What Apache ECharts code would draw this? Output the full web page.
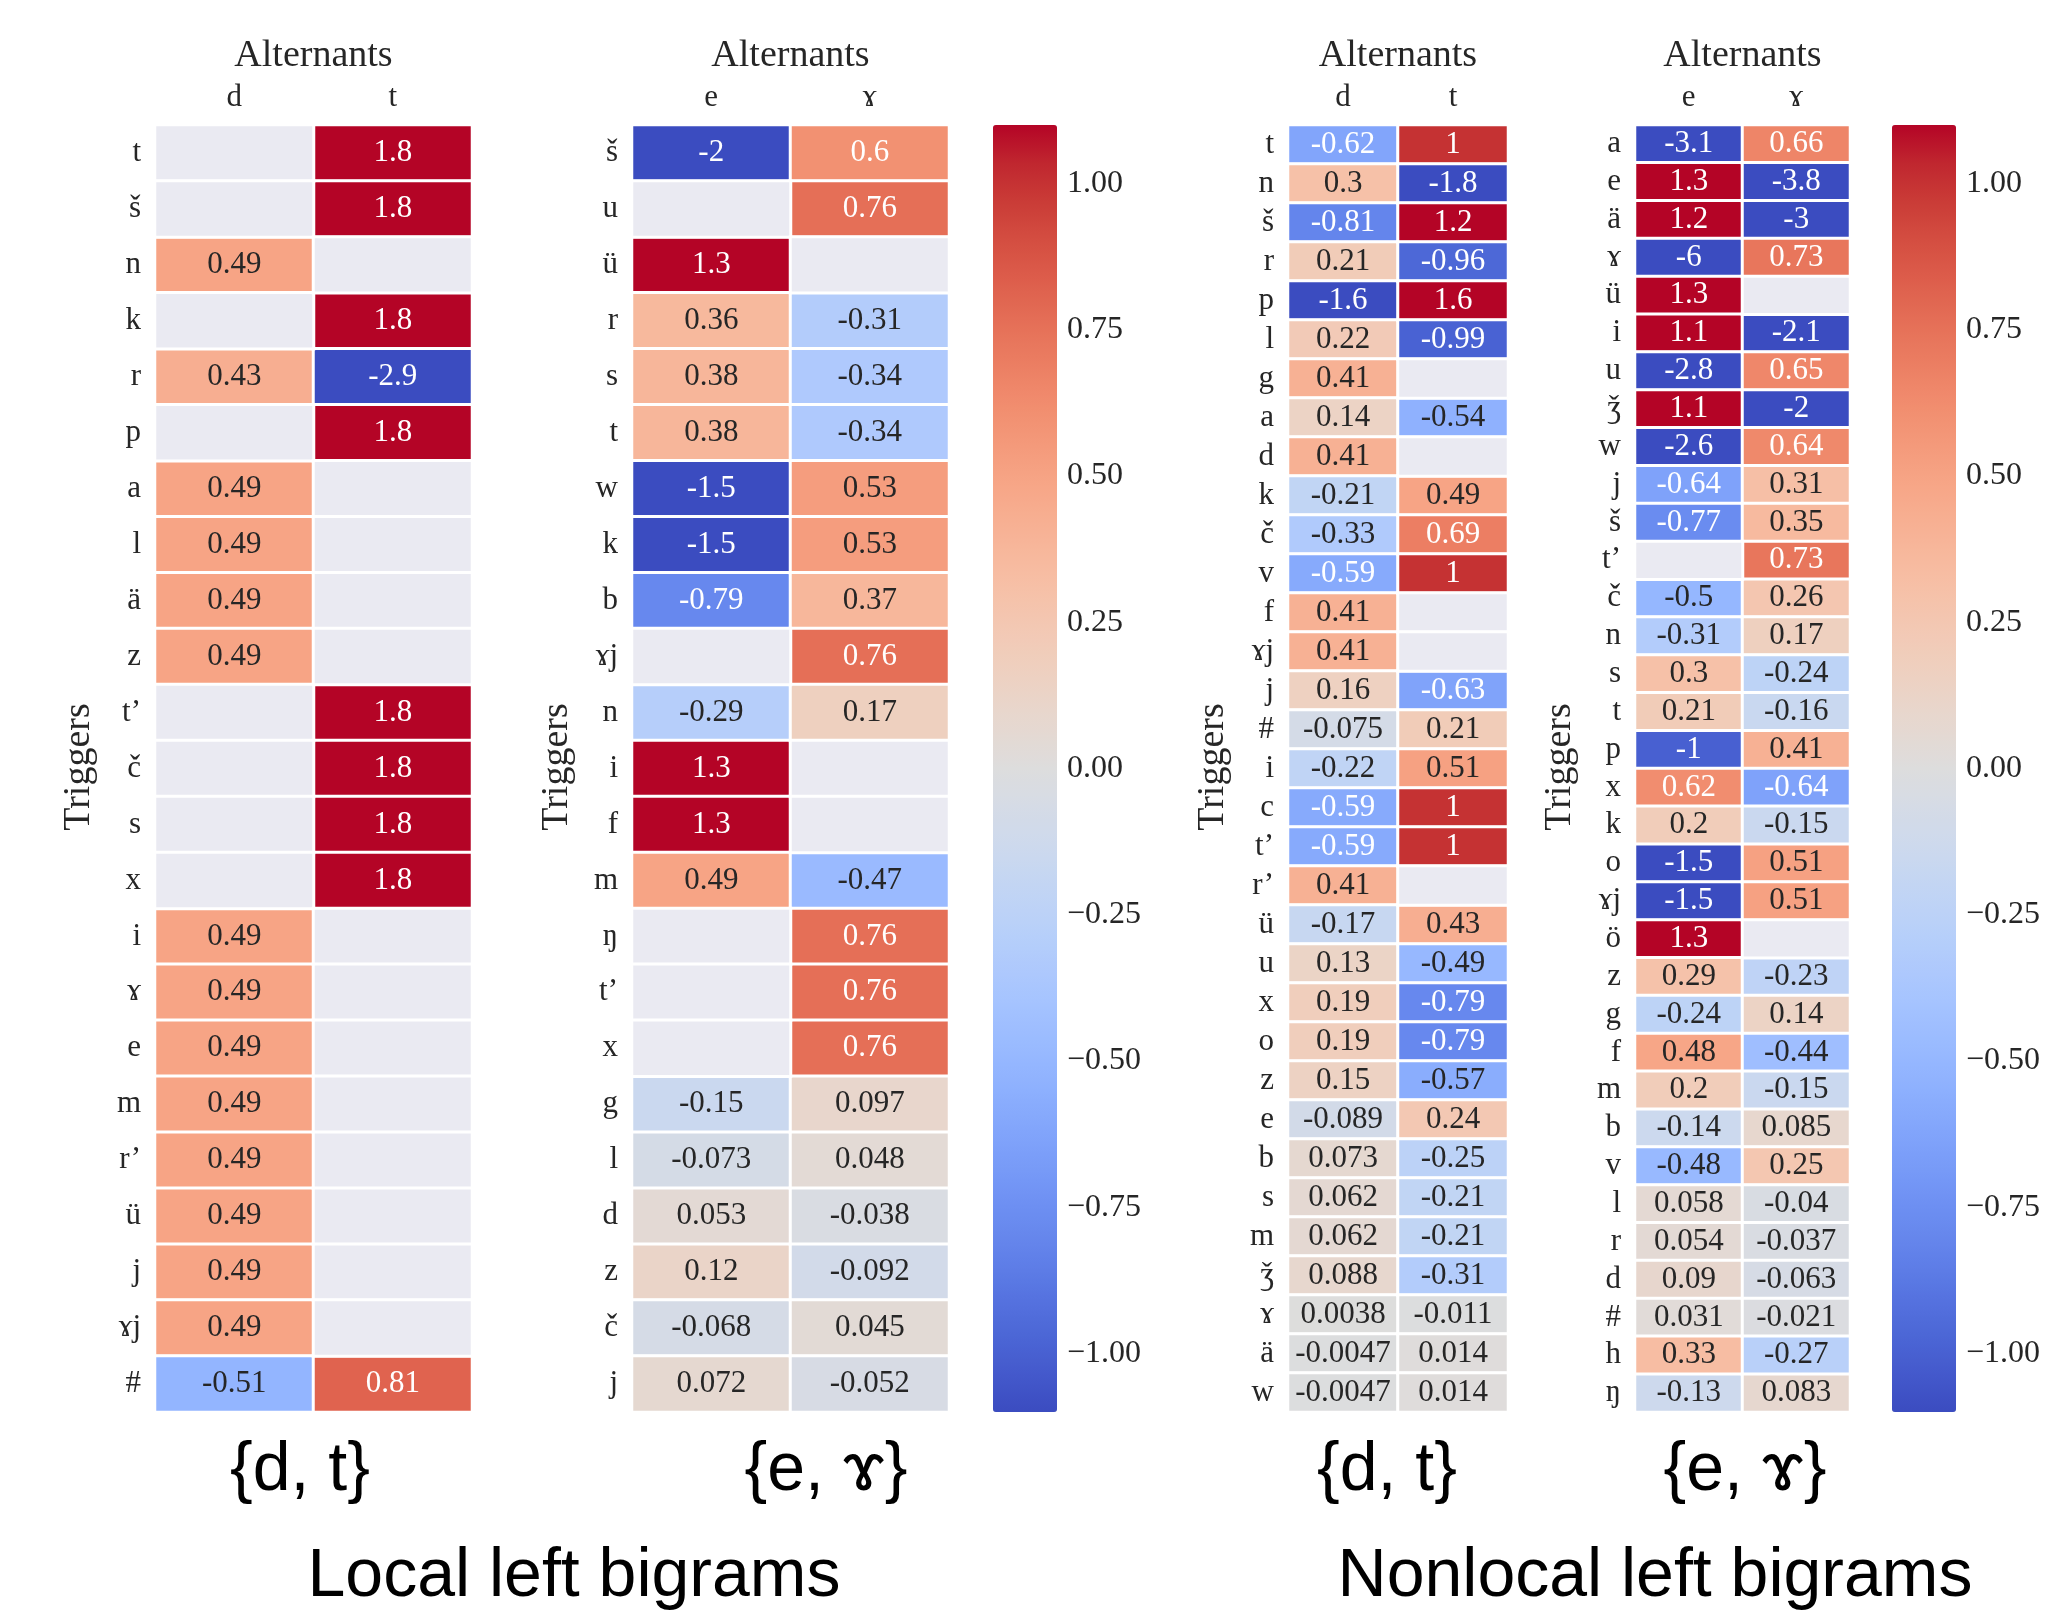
<!DOCTYPE html>
<html>
<head>
<meta charset="utf-8">
<script src="https://cdn.jsdelivr.net/npm/echarts@6/dist/echarts.min.js"></script>
<style>
html,body{margin:0;padding:0;background:#fff;}
#chart{width:2056px;height:1615px;}
</style>
</head>
<body>
<div id="chart"></div>
<script>
// ---------- DATA ----------
const hm1Cols = ['d', 't'];
const hm1Rows = ['t','š','n','k','r','p','a','l','ä','z','t’','č','s','x','i','ɤ','e','m','r’','ü','j','ɤj','#'];
const hm1D = [null,null,0.49,null,0.43,null,0.49,0.49,0.49,0.49,null,null,null,null,0.49,0.49,0.49,0.49,0.49,0.49,0.49,0.49,-0.51];
const hm1T = [1.8,1.8,null,1.8,-2.9,1.8,null,null,null,null,1.8,1.8,1.8,1.8,null,null,null,null,null,null,null,null,0.81];

const hm2Cols = ['e', 'ɤ'];
const hm2Rows = ['š','u','ü','r','s','t','w','k','b','ɤj','n','i','f','m','ŋ','t’','x','g','l','d','z','č','j'];
const hm2E = [-2,null,1.3,0.36,0.38,0.38,-1.5,-1.5,-0.79,null,-0.29,1.3,1.3,0.49,null,null,null,-0.15,-0.073,0.053,0.12,-0.068,0.072];
const hm2G = [0.6,0.76,null,-0.31,-0.34,-0.34,0.53,0.53,0.37,0.76,0.17,null,null,-0.47,0.76,0.76,0.76,0.097,0.048,-0.038,-0.092,0.045,-0.052];

const hm3Cols = ['d', 't'];
const hm3Rows = ['t','n','š','r','p','l','g','a','d','k','č','v','f','ɤj','j','#','i','c','t’','r’','ü','u','x','o','z','e','b','s','m','ǯ','ɤ','ä','w'];
const hm3D = [-0.62,0.3,-0.81,0.21,-1.6,0.22,0.41,0.14,0.41,-0.21,-0.33,-0.59,0.41,0.41,0.16,-0.075,-0.22,-0.59,-0.59,0.41,-0.17,0.13,0.19,0.19,0.15,-0.089,0.073,0.062,0.062,0.088,0.0038,-0.0047,-0.0047];
const hm3T = [1,-1.8,1.2,-0.96,1.6,-0.99,null,-0.54,null,0.49,0.69,1,null,null,-0.63,0.21,0.51,1,1,null,0.43,-0.49,-0.79,-0.79,-0.57,0.24,-0.25,-0.21,-0.21,-0.31,-0.011,0.014,0.014];

const hm4Cols = ['e', 'ɤ'];
const hm4Rows = ['a','e','ä','ɤ','ü','i','u','ǯ','w','j','š','t’','č','n','s','t','p','x','k','o','ɤj','ö','z','g','f','m','b','v','l','r','d','#','h','ŋ'];
const hm4E = [-3.1,1.3,1.2,-6,1.3,1.1,-2.8,1.1,-2.6,-0.64,-0.77,null,-0.5,-0.31,0.3,0.21,-1,0.62,0.2,-1.5,-1.5,1.3,0.29,-0.24,0.48,0.2,-0.14,-0.48,0.058,0.054,0.09,0.031,0.33,-0.13];
const hm4G = [0.66,-3.8,-3,0.73,null,-2.1,0.65,-2,0.64,0.31,0.35,0.73,0.26,0.17,-0.24,-0.16,0.41,-0.64,-0.15,0.51,0.51,null,-0.23,0.14,-0.44,-0.15,0.085,0.25,-0.04,-0.037,-0.063,-0.021,-0.27,0.083];

const cbTicks = [-1, -0.75, -0.5, -0.25, 0, 0.25, 0.5, 0.75, 1];
const vMin = -1.1, vMax = 1.1;

const pairTitles = ['{d, t}', '{e, ɤ}', '{d, t}', '{e, ɤ}'];
const groupTitles = ['Local left bigrams', 'Nonlocal left bigrams'];

// ---------- STYLE ----------
const coolwarm = ['#3b4cc0','#445acc','#4d68d7','#5775e1','#6282ea','#6c8ef1','#779af7','#82a5fb','#8db0fe','#98b9ff','#a3c2ff','#aec9fd','#b8d0f9','#c2d5f4','#ccd9ee','#d5dbe6','#dddddd','#e5d8d1','#ecd3c5','#f1ccb9','#f5c4ad','#f7bba0','#f7b194','#f7a687','#f49a7b','#f18d6f','#ec7f63','#e57058','#de604d','#d55042','#cb3e38','#c0282f','#b40426'];
const serif = "'Liberation Serif', 'DejaVu Serif', serif";
const sans = "'Liberation Sans', 'DejaVu Sans', sans-serif";
const txt = '#262626';
const emptyColor = '#eaeaf2';

function hexToRgb(h){return [parseInt(h.slice(1,3),16),parseInt(h.slice(3,5),16),parseInt(h.slice(5,7),16)];}
function mapColor(v){
  let t = (v - vMin) / (vMax - vMin); t = Math.max(0, Math.min(1, t));
  const pos = t * (coolwarm.length - 1); const i = Math.min(Math.floor(pos), coolwarm.length - 2); const f = pos - i;
  const a = hexToRgb(coolwarm[i]), b = hexToRgb(coolwarm[i+1]);
  return [0,1,2].map(k => a[k] + (b[k]-a[k]) * f);
}
function textColor(v){
  const c = mapColor(v).map(x => { x /= 255; return x <= 0.03928 ? x/12.92 : Math.pow((x+0.055)/1.055, 2.4); });
  const lum = 0.2126*c[0] + 0.7152*c[1] + 0.0722*c[2];
  return lum > 0.412 ? txt : '#ffffff';
}

// layout (pixels)
const grids = [
  {left:155, top:125, width:317, height:1287},
  {left:632, top:125, width:317, height:1287},
  {left:1288, top:125, width:220, height:1287},
  {left:1635, top:125, width:215, height:1287}
];
const cbGrids = [
  {left:993, top:125, width:64, height:1287},
  {left:1892, top:125, width:64, height:1287}
];

const heatmaps = [
  {rows:hm1Rows, cols:hm1Cols, vals:[hm1D, hm1T]},
  {rows:hm2Rows, cols:hm2Cols, vals:[hm2E, hm2G]},
  {rows:hm3Rows, cols:hm3Cols, vals:[hm3D, hm3T]},
  {rows:hm4Rows, cols:hm4Cols, vals:[hm4E, hm4G]}
];

const gridOpt = [], xAxes = [], yAxes = [], series = [];
heatmaps.forEach((hm, gi) => {
  gridOpt.push(Object.assign({containLabel:false}, grids[gi]));
  xAxes.push({type:'category', gridIndex:gi, data:hm.cols, position:'top',
    axisLine:{show:false}, axisTick:{show:false}, splitLine:{show:false},
    axisLabel:{interval:0, fontFamily:serif, fontSize:31, color:txt, margin:12}});
  yAxes.push({type:'category', gridIndex:gi, data:hm.rows, inverse:true,
    axisLine:{show:false}, axisTick:{show:false}, splitLine:{show:false},
    axisLabel:{interval:0, hideOverlap:false, fontFamily:serif, fontSize:31, color:txt, margin:14}});
  const vals = [], nans = [];
  hm.vals.forEach((col, xi) => col.forEach((v, yi) => {
    if (v === null) nans.push([xi, yi, 0]);
    else vals.push({value:[xi, yi, v], label:{color:textColor(v)}});
  }));
  series.push({type:'heatmap', xAxisIndex:gi, yAxisIndex:gi, data:vals,
    itemStyle:{borderColor:'#ffffff', borderWidth:3},
    label:{show:true, fontFamily:serif, fontSize:31, formatter:p => String(p.value[2])},
    emphasis:{disabled:true}});
  series.push({type:'heatmap', xAxisIndex:gi, yAxisIndex:gi, data:nans,
    itemStyle:{color:emptyColor, borderColor:'#ffffff', borderWidth:3},
    label:{show:false}, emphasis:{disabled:true}});
});

cbGrids.forEach((g, k) => {
  const gi = 4 + k;
  gridOpt.push(Object.assign({containLabel:false}, g));
  xAxes.push({type:'value', gridIndex:gi, show:false, min:0, max:1});
  yAxes.push({type:'value', gridIndex:gi, min:vMin, max:vMax, position:'right',
    axisLine:{show:false}, axisTick:{show:false}, splitLine:{show:false},
    axisLabel:{customValues:cbTicks, fontFamily:serif, fontSize:32, color:txt, margin:10,
      formatter:v => (v < 0 ? '\u2212' : '') + Math.abs(v).toFixed(2)}});
});

const visualMaps = cbGrids.map((g, k) => ({
  type:'continuous', min:vMin, max:vMax, calculable:false, orient:'vertical',
  left:g.left, top:g.top, itemWidth:g.width, itemHeight:g.height, padding:0,
  seriesIndex: k === 0 ? [0, 2] : [4, 6], dimension:2,
  inRange:{color:coolwarm}, text:null, showLabel:false, hoverLink:false
}));

const graphics = [];
grids.forEach((g, gi) => {
  graphics.push({type:'text', x:g.left + g.width/2, y:56,
    style:{text:'Alternants', font:'38px ' + serif, fill:txt, align:'center', verticalAlign:'middle'}});
});
const trigX = [79, 557, 1213, 1560];
trigX.forEach(x => graphics.push({type:'text', x:x, y:767, rotation:Math.PI/2,
  style:{text:'Triggers', font:'38px ' + serif, fill:txt, align:'center', verticalAlign:'middle'}}));
const pairX = [300, 826, 1387, 1745];
pairTitles.forEach((t, i) => graphics.push({type:'text', x:pairX[i], y:1471,
  style:{text:t, font:'68px ' + sans, fill:'#000', align:'center', verticalAlign:'middle'}}));
const groupX = [574, 1655];
groupTitles.forEach((t, i) => graphics.push({type:'text', x:groupX[i], y:1577,
  style:{text:t, font:'68px ' + sans, fill:'#000', align:'center', verticalAlign:'middle'}}));

const chart = echarts.init(document.getElementById('chart'), null, {renderer:'canvas'});
chart.setOption({
  backgroundColor:'#ffffff',
  animation:false,
  grid:gridOpt, xAxis:xAxes, yAxis:yAxes,
  visualMap:visualMaps,
  series:series,
  graphic:graphics
});
</script>
</body>
</html>
